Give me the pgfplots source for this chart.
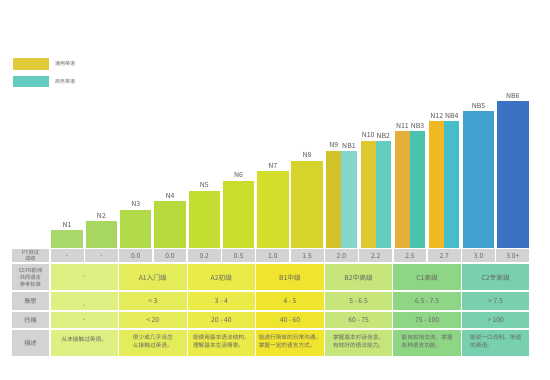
\documentclass[border=0pt]{standalone}
\usepackage{pgfplots}
\pgfplotsset{compat=1.18}
\usepackage{fontspec}
\setmainfont{Liberation Sans}
\newfontfamily\cjk{Noto Sans CJK SC}
\definecolor{n1}{HTML}{A9D86B}
\definecolor{n2}{HTML}{A8D760}
\definecolor{n3}{HTML}{B0DA48}
\definecolor{n4}{HTML}{B6DA3B}
\definecolor{n5}{HTML}{C3DD30}
\definecolor{n6}{HTML}{CADD2C}
\definecolor{n7}{HTML}{D2DE2A}
\definecolor{n8}{HTML}{D6D42C}
\definecolor{n9}{HTML}{D4C22A}
\definecolor{n10}{HTML}{DFC730}
\definecolor{n11}{HTML}{E6AE3A}
\definecolor{n12}{HTML}{F0B823}
\definecolor{nb1}{HTML}{84D6CB}
\definecolor{nb2}{HTML}{63CDBF}
\definecolor{nb3}{HTML}{49C3B0}
\definecolor{nb4}{HTML}{46BEC9}
\definecolor{nb5}{HTML}{42A0D0}
\definecolor{nb6}{HTML}{3B72C1}
\definecolor{legy}{HTML}{E2C93A}
\definecolor{legt}{HTML}{62CDBF}
\definecolor{g1}{HTML}{E0EF82}
\definecolor{g2}{HTML}{E5EC5A}
\definecolor{g3}{HTML}{EAEA48}
\definecolor{g4}{HTML}{F0E42F}
\definecolor{g5}{HTML}{C6E57B}
\definecolor{g6}{HTML}{8ED686}
\definecolor{g7}{HTML}{78D0AE}
\definecolor{cellgray}{HTML}{D3D3D5}
\definecolor{txt}{HTML}{666662}
\definecolor{lbl}{HTML}{555555}
\newcommand{\mybar}[5]{%
  \addplot[ybar, bar width=#3, bar shift=0pt, fill=#4, draw=none,
    nodes near coords={#5},
    every node near coord/.append style={font=\cjk\fontsize{7}{7}\selectfont, text=lbl, inner sep=1.2pt, yshift=1.6pt}]
    coordinates {(#1,#2)};}
\begin{document}
\begin{tikzpicture}
\begin{axis}[scale only axis, width=550bp, height=380bp,
  xmin=-1.458333, xmax=14.583333, ymin=-132, ymax=248,
  hide axis, clip=false]
\path (axis cs:-1.458333,-132) rectangle (axis cs:14.583333,248);
% bars
\mybar{0.5}{18}{0.92}{n1}{N1}
\mybar{1.5}{27}{0.92}{n2}{N2}
\mybar{2.5}{38}{0.92}{n3}{N3}
\mybar{3.5}{47}{0.92}{n4}{N4}
\mybar{4.5}{57}{0.92}{n5}{N5}
\mybar{5.5}{67}{0.92}{n6}{N6}
\mybar{6.5}{77}{0.92}{n7}{N7}
\mybar{7.5}{87}{0.92}{n8}{N8}
\mybar{8.28}{97}{0.44}{n9}{N9}
\mybar{8.72}{97}{0.44}{nb1}{NB1}
\mybar{9.28}{107}{0.44}{n10}{N10}
\mybar{9.72}{107}{0.44}{nb2}{NB2}
\mybar{10.28}{116.5}{0.44}{n11}{N11}
\mybar{10.72}{116.5}{0.44}{nb3}{NB3}
\mybar{11.28}{126.5}{0.44}{n12}{N12}
\mybar{11.72}{126.5}{0.44}{nb4}{NB4}
\mybar{12.5}{136.5}{0.92}{nb5}{NB5}
\mybar{13.5}{146.5}{0.92}{nb6}{NB6}
% legend
\fill[legy] (axis cs:-1.079,190) rectangle (axis cs:-0.015,178);
\fill[legt] (axis cs:-1.079,172) rectangle (axis cs:-0.015,161);
\node[anchor=west, text=txt, font=\cjk\fontsize{5}{6}\selectfont, inner sep=0pt] at (axis cs:0.146,184) {通用英语};
\node[anchor=west, text=txt, font=\cjk\fontsize{5}{6}\selectfont, inner sep=0pt] at (axis cs:0.146,166.5) {商务英语};
% label column
\fill[cellgray] (axis cs:-1.10,-1) rectangle (axis cs:-0.04,-14);
\fill[cellgray] (axis cs:-1.10,-16) rectangle (axis cs:-0.04,-42.5);
\fill[cellgray] (axis cs:-1.10,-44.5) rectangle (axis cs:-0.04,-62);
\fill[cellgray] (axis cs:-1.10,-64) rectangle (axis cs:-0.04,-80);
\fill[cellgray] (axis cs:-1.10,-82) rectangle (axis cs:-0.04,-108);
\node[align=center, text=txt, font=\cjk\fontsize{5.2}{5.4}\selectfont, inner sep=0pt] at (axis cs:-0.57,-7.5) {PT测试\\成绩};
\node[align=center, text=txt, font=\cjk\fontsize{5.3}{7.3}\selectfont, inner sep=0pt] at (axis cs:-0.57,-29.3) {CEFR欧洲\\共同语言\\参考标准};
\node[text=txt, font=\cjk\fontsize{6.2}{7}\selectfont, inner sep=0pt] at (axis cs:-0.57,-53.2) {雅思};
\node[text=txt, font=\cjk\fontsize{6.2}{7}\selectfont, inner sep=0pt] at (axis cs:-0.57,-72) {托福};
\node[text=txt, font=\cjk\fontsize{6.2}{7}\selectfont, inner sep=0pt] at (axis cs:-0.57,-95) {描述};
% PT row
\pgfplotsinvokeforeach{0,...,13}{
  \fill[cellgray] (axis cs:#1+0.02,-1) rectangle (axis cs:#1+0.98,-14);
}
\pgfplotsforeachungrouped \x/\t in {0.5/-,1.5/-,2.5/0.0,3.5/0.0,4.5/0.2,5.5/0.5,6.5/1.0,7.5/1.5,8.5/2.0,9.5/2.2,10.5/2.5,11.5/2.7,12.5/3.0,13.5/3.0+}{
  \edef\tmp{\noexpand\node[text=txt, font=\noexpand\cjk\noexpand\fontsize{6.8}{7}\noexpand\selectfont, inner sep=0pt] at (axis cs:\x,-8.3) {\t};}
  \tmp
}
% group cells
\pgfplotsforeachungrouped \g/\c in {0/g1,2/g2,4/g3,6/g4,8/g5,10/g6,12/g7}{
  \edef\tmp{%
  \noexpand\fill[\c] (axis cs:\g+0.015,-16) rectangle (axis cs:\g+1.985,-42.5);
  \noexpand\fill[\c] (axis cs:\g+0.015,-44.5) rectangle (axis cs:\g+1.985,-62);
  \noexpand\fill[\c] (axis cs:\g+0.015,-64) rectangle (axis cs:\g+1.985,-80);
  \noexpand\fill[\c] (axis cs:\g+0.015,-82) rectangle (axis cs:\g+1.985,-108);}
  \tmp
}
\tikzset{tc/.style={text=txt, font=\cjk\fontsize{6.8}{7}\selectfont, inner sep=0pt},
         dc/.style={text=txt, font=\cjk\fontsize{5.7}{7.9}\selectfont, inner sep=0pt, align=left}}
% CEFR
\node[tc] at (axis cs:1,-29.7) {-};
\node[tc] at (axis cs:3,-29.7) {A1入门级};
\node[tc] at (axis cs:5,-29.7) {A2初级};
\node[tc] at (axis cs:7,-29.7) {B1中级};
\node[tc] at (axis cs:9,-29.7) {B2中高级};
\node[tc] at (axis cs:11,-29.7) {C1高级};
\node[tc] at (axis cs:13,-29.7) {C2专家级};
% IELTS
\node[tc] at (axis cs:1,-58) {-};
\node[tc] at (axis cs:3,-53) {< 3};
\node[tc] at (axis cs:5,-53) {3 - 4};
\node[tc] at (axis cs:7,-53) {4 - 5};
\node[tc] at (axis cs:9,-53) {5 - 6.5};
\node[tc] at (axis cs:11,-53) {6.5 - 7.5};
\node[tc] at (axis cs:13,-53) {> 7.5};
% TOEFL
\node[tc] at (axis cs:1,-72) {-};
\node[tc] at (axis cs:3,-72) {< 20};
\node[tc] at (axis cs:5,-72) {20 - 40};
\node[tc] at (axis cs:7,-72) {40 - 60};
\node[tc] at (axis cs:9,-72) {60 - 75};
\node[tc] at (axis cs:11,-72) {75 - 100};
\node[tc] at (axis cs:13,-72) {> 100};
% descriptions
\node[dc] at (axis cs:1,-91) {从未接触过英语。};
\node[dc] at (axis cs:3,-93) {很少或几乎没怎\\么接触过英语。};
\node[dc] at (axis cs:5,-93) {能使用基本语法结构，\\理解基本生活情景。};
\node[dc] at (axis cs:7,-93) {能进行简单的日常沟通，\\掌握一定的语言方式。};
\node[dc] at (axis cs:9,-93) {掌握基本对话信息，\\有较好的语法能力。};
\node[dc] at (axis cs:11,-93) {能自如地交流，掌握\\各种语言功能。};
\node[dc] at (axis cs:13,-93) {能说一口流利、地道\\的英语。};
\end{axis}
\end{tikzpicture}
\end{document}
